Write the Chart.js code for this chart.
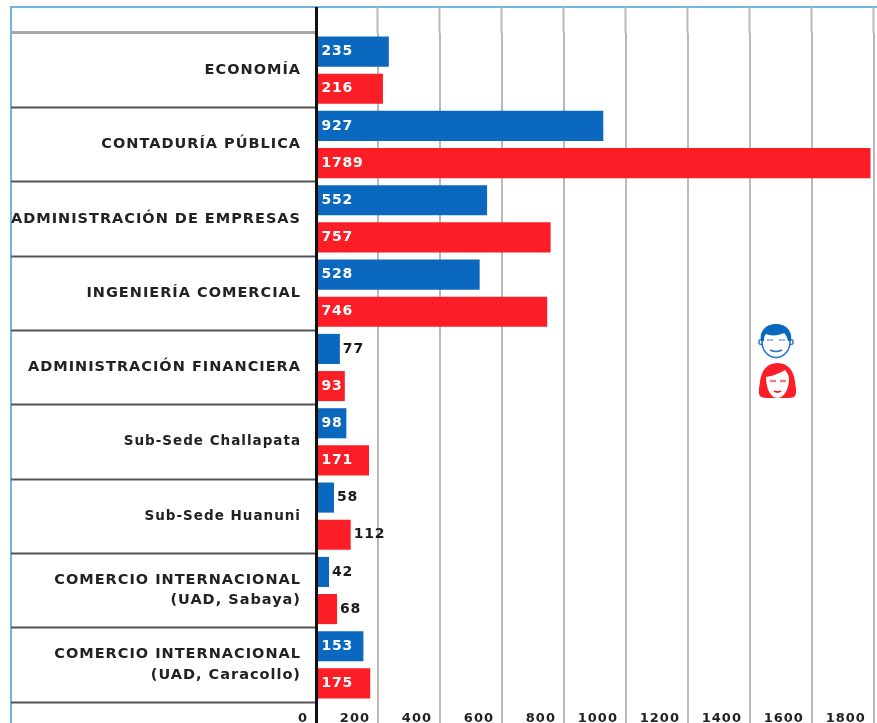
<!DOCTYPE html>
<html>
<head>
<meta charset="utf-8">
<title>Matriculados por carrera</title>
<script src="https://cdn.jsdelivr.net/npm/chart.js@4/dist/chart.umd.min.js"></script>
<style>
  html, body { margin: 0; padding: 0; background: #fff; overflow: hidden; }
  #wrap { position: relative; width: 877px; height: 723px; overflow: hidden; }
  #frame { position: absolute; left: 10px; top: 6px; right: 0; bottom: 0; border-left: 2px solid #6fb5e2; border-top: 2px solid #6fb5e2; }
  canvas { position: absolute; left: 0; top: 0; }
  .face { position: absolute; }
</style>
</head>
<body>
<div id="wrap">
  <div id="frame"></div>
  <canvas id="chart" width="877" height="723"></canvas>
  <!-- legend faces -->
  <svg class="face" style="left:757px;top:322px" width="38" height="38" viewBox="0 0 38 38">
    <circle cx="4.5" cy="20" r="2.6" fill="#fff" stroke="#2a78c8" stroke-width="1.4"/>
    <circle cx="33.5" cy="20" r="2.6" fill="#fff" stroke="#2a78c8" stroke-width="1.4"/>
    <ellipse cx="19" cy="20" rx="14" ry="15.5" fill="#fff" stroke="#2a78c8" stroke-width="1.6"/>
    <path d="M4 19 C2 8 10 2 19 2 C28 2 36 8 34 19 L31 19 C30 15 29 13 27 11 C21 14 13 14 9 12 C7 14 7 16 7 19 Z" fill="#0a68be"/>
    <path d="M10 18 h6 M22 18 h6" stroke="#6fa8dc" stroke-width="1.6"/>
    <path d="M13 28 Q19 31 25 28" stroke="#2a78c8" stroke-width="1.6" fill="none"/>
  </svg>
  <svg class="face" style="left:757px;top:362px" width="41" height="38" viewBox="0 0 41 38">
    <path d="M20.5 1 C9 1 4 10 3 20 C2 27 1 31 3 34 C5 36 9 36 12 36 L29 36 C32 36 36 36 38 34 C40 31 39 27 38 20 C37 10 32 1 20.5 1 Z" fill="#fc1e26"/>
    <path d="M9 15 C15 14 24 11 28 8 C30 11 32 13 32 16 C32 27 27 36 20.5 36 C14 36 9 27 9 15 Z" fill="#fff"/>
    <path d="M13 19 h6 M23 19 h6" stroke="#f47f85" stroke-width="2.6"/>
    <path d="M17 29 Q20.5 31 24 29" stroke="#fc1e26" stroke-width="2" fill="none"/>
  </svg>
</div>
<script>
const categories = [
  "ECONOMÍA",
  "CONTADURÍA PÚBLICA",
  "ADMINISTRACIÓN DE EMPRESAS",
  "INGENIERÍA COMERCIAL",
  "ADMINISTRACIÓN FINANCIERA",
  "Sub-Sede Challapata",
  "Sub-Sede Huanuni",
  ["COMERCIO INTERNACIONAL", "(UAD, Sabaya)"],
  ["COMERCIO INTERNACIONAL", "(UAD, Caracollo)"]
];
const hombres = [235, 927, 552, 528, 77, 98, 58, 42, 153];
const mujeres = [216, 1789, 757, 746, 93, 171, 112, 68, 175];
const xTicks = [0, 200, 400, 600, 800, 1000, 1200, 1400, 1600, 1800];
// these values sit beside the bar, in black, the rest go inside
const outsideLabels = [77, 58, 112, 42, 68];
const xMax = 1810;

const BLUE = "#0a68be";
const RED = "#fc1e26";
const GRID = "#b9b9b9";
const FONT = "'DejaVu Sans', sans-serif";

// tick and value text in the picture is stretched, so widen it a bit
const spacing = {
  id: "spacing",
  beforeDraw(chart) {
    chart.ctx.letterSpacing = "1px";
  }
};

const valueLabels = {
  id: "valueLabels",
  afterDatasetsDraw(chart) {
    const ctx = chart.ctx;
    ctx.save();
    ctx.letterSpacing = "0.8px";
    ctx.font = "bold 14px " + FONT;
    ctx.textBaseline = "middle";
    ctx.textAlign = "left";
    chart.data.datasets.forEach((ds, i) => {
      chart.getDatasetMeta(i).data.forEach((bar, j) => {
        const v = ds.data[j];
        if (outsideLabels.includes(v)) {
          ctx.fillStyle = "#1a1a1a";
          ctx.fillText(v, bar.x + 3, bar.y);
        } else {
          ctx.fillStyle = "#fff";
          ctx.fillText(v, bar.base + 4, bar.y);
        }
      });
    });
    ctx.restore();
  }
};

function useTicks(scale) {
  scale.ticks = xTicks.map(v => ({ value: v }));
}

new Chart(document.getElementById("chart").getContext("2d"), {
  type: "bar",
  data: {
    labels: categories,
    datasets: [
      { label: "Hombres", data: hombres, backgroundColor: BLUE },
      { label: "Mujeres", data: mujeres, backgroundColor: RED }
    ]
  },
  plugins: [spacing, valueLabels],
  options: {
    indexAxis: "y",
    responsive: false,
    animation: false,
    events: [],
    categoryPercentage: 1,
    barPercentage: 0.81,
    layout: { padding: { top: 7, left: 0, right: 0, bottom: 0 } },
    plugins: { legend: { display: false }, tooltip: { enabled: false } },
    scales: {
      x: {
        min: 0,
        max: xMax,
        position: "bottom",
        afterBuildTicks: useTicks,
        afterFit(s) { s.height = 21; },
        border: { display: false },
        grid: {
          color: c => c.tick && c.tick.value === 0 ? "#111" : GRID,
          lineWidth: c => c.tick && c.tick.value === 0 ? 3 : 2,
          tickColor: c => c.tick && c.tick.value === 0 ? "#111" : GRID,
          tickWidth: c => c.tick && c.tick.value === 0 ? 3 : 2,
          tickLength: 21
        },
        ticks: {
          callback: v => String(v),
          autoSkip: false,
          maxRotation: 0,
          align: "end",
          labelOffset: -8,
          padding: -12,
          color: "#222",
          font: { family: FONT, weight: "bold", size: 13 }
        }
      },
      // only there to carry the grid lines up to the frame
      x2: {
        axis: "x",
        min: 0,
        max: xMax,
        position: "top",
        afterBuildTicks: useTicks,
        afterFit(s) { s.height = 26; },
        border: { display: false },
        grid: {
          drawOnChartArea: false,
          tickColor: c => c.tick && c.tick.value === 0 ? "#111" : GRID,
          tickWidth: c => c.tick && c.tick.value === 0 ? 3 : 2,
          tickLength: 26
        },
        ticks: { display: false }
      },
      y: {
        afterFit(s) { s.width = 316; },
        border: { display: true, color: "#111", width: 3, z: 1 },
        grid: {
          drawOnChartArea: false,
          tickLength: 305,
          tickColor: c => c.index === 0 ? "#a8a8a8" : "#555",
          tickWidth: c => c.index === 0 ? 3 : 2
        },
        ticks: {
          autoSkip: false,
          padding: -290,
          crossAlign: "near",
          color: "#222",
          font: c => ({ family: FONT, weight: "bold", lineHeight: 1.4, size: c.index === 5 || c.index === 6 ? 13.5 : 14.5 })
        }
      }
    }
  }
});
</script>
</body>
</html>
